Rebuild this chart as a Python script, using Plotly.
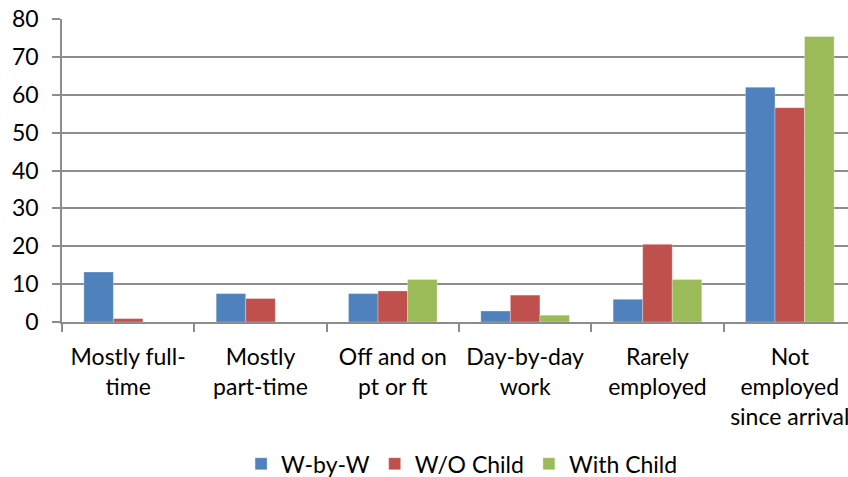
import plotly.graph_objects as go

categories = [
    "Mostly full-<br>time",
    "Mostly<br>part-time",
    "Off and on<br>pt or ft",
    "Day-by-day<br>work",
    "Rarely<br>employed",
    "Not<br>employed<br>since arrival",
]
w_by_w = [13.2, 7.5, 7.5, 2.9, 6.0, 62.0]
wo_child = [0.9, 6.2, 8.2, 7.1, 20.5, 56.6]
with_child = [None, None, 11.2, 1.8, 11.2, 75.4]

series = [
    ("W-by-W", w_by_w, "#4F81BD"),
    ("W/O Child", wo_child, "#C0504D"),
    ("With Child", with_child, "#9BBB59"),
]

FONT = "Lato"
FS = 23
GRID = "#8C8C8C"

fig = go.Figure()
for name, vals, color in series:
    fig.add_trace(go.Bar(
        x=categories, y=vals, name=name,
        marker=dict(color=color, line=dict(color="rgba(255,255,255,0.6)", width=0.5)),
    ))

fig.update_layout(
    width=848, height=477,
    margin=dict(l=62, r=0, t=19, b=155, autoexpand=False),
    paper_bgcolor="white", plot_bgcolor="white",
    barmode="group", bargap=0.33, bargroupgap=0,
    font=dict(family=FONT, size=FS, color="#000000"),
    showlegend=True,
    legend=dict(orientation="h", x=0.509, xanchor="center", y=-0.468, yanchor="middle",
                font=dict(size=FS), itemwidth=30, traceorder="normal"),
)
fig.update_xaxes(
    range=[-0.5, 5.44], automargin=False,
    showgrid=False, showline=True, linecolor=GRID, linewidth=1.5,
    ticks="outside", ticklen=8, tickcolor=GRID, tickwidth=1.5,
    tickson="boundaries", ticklabelstandoff=14,
    tickfont=dict(size=FS),
)
fig.update_yaxes(
    range=[0, 80], dtick=10, showgrid=True, gridcolor=GRID, gridwidth=1.5,
    showline=True, linecolor=GRID, linewidth=1.5, automargin=False,
    ticks="outside", ticklen=8, tickcolor=GRID, tickwidth=1.5,
    ticklabelstandoff=9,
    tickfont=dict(size=FS), zeroline=False,
)

fig.write_html("out.html")
